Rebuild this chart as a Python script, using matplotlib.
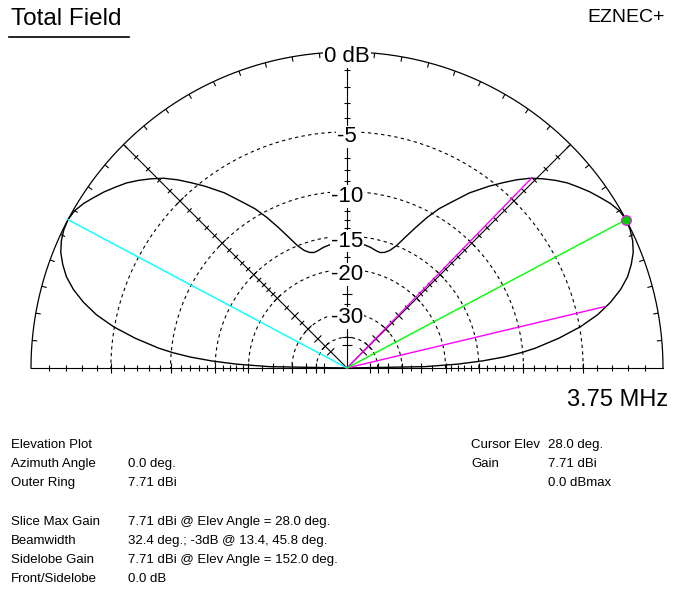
import numpy as np
import matplotlib.pyplot as plt
from matplotlib.collections import LineCollection

plt.rcParams['font.family'] = ['Liberation Sans', 'DejaVu Sans']

# elevation pattern, relative dB (0 dB = 7.71 dBi)
elev_deg = [0, 1, 2, 3, 4, 5, 6, 8, 10, 12, 14, 16, 18, 20, 22, 24, 26, 28, 30,
            32, 34, 36, 38, 40, 42, 44, 46, 48, 50, 52, 55, 58, 60, 62, 64, 66,
            68, 70, 72, 74, 76, 79, 82, 85, 88, 90,
            92, 95, 98, 101, 104, 106, 108, 110, 112, 114, 116, 118, 120, 122,
            125, 128, 130, 132, 134, 136, 138, 140, 142, 144, 146, 148, 150,
            152, 154, 156, 158, 160, 162, 164, 166, 168, 170, 172, 174, 175,
            176, 177, 178, 179, 180]
gain_db = [-99, -24, -18, -14.5, -12, -10.2, -8.8, -6.7, -4.95, -3.6, -2.6, -1.8,
           -1.18, -0.75, -0.4, -0.18, -0.05, 0, -0.08, -0.3, -0.6, -0.9, -1.25,
           -1.6, -2.05, -2.55, -3.1, -3.8, -4.6, -5.4, -6.7, -8.3, -9.3, -10.6,
           -12.1, -13.6, -15.0, -15.9, -16.4, -16.6, -16.5, -16.2, -16.0, -15.8,
           -15.65, -15.6,
           -15.65, -15.8, -16.0, -16.2, -16.5, -16.6, -16.4, -15.9, -15.0, -13.6,
           -12.1, -10.6, -9.3, -8.3, -6.7, -5.4, -4.6, -3.8, -3.1, -2.55, -2.05,
           -1.6, -1.25, -0.9, -0.6, -0.3, -0.08, 0, -0.05, -0.18, -0.4, -0.75,
           -1.18, -1.8, -2.6, -3.6, -4.95, -6.7, -8.8, -10.2, -12, -14.5, -18,
           -24, -99]

ring_db = [-5, -10, -15, -20, -30, -40]
label_db = [0, -5, -10, -15, -20, -30]
label_txt = ['0 dB', '-5', '-10', '-15', '-20', '-30']

cursor_elev = 28.0
sidelobe_elev = 152.0
bw_edges = [13.4, 45.8]
bw_db = -3.0

left_rows = [('Elevation Plot', ''), ('Azimuth Angle', '0.0 deg.'),
             ('Outer Ring', '7.71 dBi'), ('', ''),
             ('Slice Max Gain', '7.71 dBi @ Elev Angle = 28.0 deg.'),
             ('Beamwidth', '32.4 deg.; -3dB @ 13.4, 45.8 deg.'),
             ('Sidelobe Gain', '7.71 dBi @ Elev Angle = 152.0 deg.'),
             ('Front/Sidelobe', '0.0 dB')]
right_rows = [('Cursor Elev', '28.0 deg.'), ('Gain', '7.71 dBi'), ('', '0.0 dBmax')]


def arrl(db):
    # ARRL log scale: 0.89 radius factor per 2 dB
    return 0.89 ** (-np.asarray(db, dtype=float) / 2)


W, H = 674, 591
R = 316.0
cx, cy = 347, 368

fig = plt.figure(figsize=(W / 100, H / 100), dpi=100)
ax = fig.add_axes([0, 0, 1, 1])
ax.set_xlim(-cx / R, (W - cx) / R)
ax.set_ylim(-(H - cy) / R, cy / R)
ax.axis('off')

px = 1 / R
t = np.radians(np.linspace(0, 180, 361))

# outer ring
ax.plot(np.cos(t), np.sin(t), color='black', lw=0.9)
# dashed rings
for d in ring_db:
    r = arrl(d)
    ax.plot(r * np.cos(t), r * np.sin(t), color='black', lw=0.8,
            dashes=(3, 3))

# radial axes
for a in [0, 45, 90, 135, 180]:
    ar = np.radians(a)
    ax.plot([0, np.cos(ar)], [0, np.sin(ar)], color='black', lw=0.8)

# ticks on radial axes
segs = []
tick_db = list(range(-1, -20, -1)) + [-20, -22.5, -25, -27.5, -30, -35, -40, -45]
for a in [0, 45, 90, 135, 180]:
    ar = np.radians(a)
    nx, ny = -np.sin(ar), np.cos(ar)
    for d in tick_db:
        r = arrl(d)
        L = (5 if d % 5 == 0 else 3) * px
        x0, y0 = r * np.cos(ar), r * np.sin(ar)
        segs.append([(x0 - L * nx, y0 - L * ny), (x0 + L * nx, y0 + L * ny)])
# ticks on outer ring
for a in range(5, 180, 5):
    ar = np.radians(a)
    segs.append([(np.cos(ar), np.sin(ar)),
                 ((1 - 5 * px) * np.cos(ar), (1 - 5 * px) * np.sin(ar))])
ax.add_collection(LineCollection(segs, colors='black', linewidths=0.8))

# pattern
r_pat = arrl(gain_db)
th = np.radians(elev_deg)
ax.plot(r_pat * np.cos(th), r_pat * np.sin(th), color='black', lw=1.0, zorder=3)

# cursor / sidelobe / beamwidth lines
a = np.radians(sidelobe_elev)
ax.plot([0, np.cos(a)], [0, np.sin(a)], color='#00ffff', lw=1.0, zorder=4)
for e in bw_edges:
    a = np.radians(e)
    rb = arrl(bw_db)
    ax.plot([0, rb * np.cos(a)], [0, rb * np.sin(a)], color='#ff00ff', lw=1.0,
            zorder=4)
a = np.radians(cursor_elev)
ax.plot([0, np.cos(a)], [0, np.sin(a)], color='#00ff00', lw=1.0, zorder=4)
ax.plot([np.cos(a)], [np.sin(a)], marker='o', ms=7, mfc='#00cc00',
        mec='#ff00ff', mew=0.8, zorder=5)

# ring labels
for d, s in zip(label_db, label_txt):
    ax.text(0, arrl(d) - 5 * px, s, ha='center', va='center', fontsize=16,
            zorder=6, bbox=dict(facecolor='white', edgecolor='none', pad=0.5))

# header / footer text
def fx(x):
    return x / W


def fy(y):
    return 1 - y / H


fig.text(fx(11), fy(19), 'Total Field', fontsize=17.5, ha='left', va='center')
fig.add_artist(plt.Line2D([fx(9), fx(129)], [fy(37), fy(37)], color='black',
                          lw=1.2))
fig.text(fx(665), fy(18), 'EZNEC+', fontsize=14, ha='right', va='center')
fig.text(fx(668), fy(400), '3.75 MHz', fontsize=17, ha='right', va='center')

row_y = [445, 464, 483, 502, 522, 541, 560, 579]
for (lab, val), y in zip(left_rows, row_y):
    fig.text(fx(11), fy(y), lab, fontsize=9.5, ha='left', va='center')
    fig.text(fx(128), fy(y), val, fontsize=9.5, ha='left', va='center')
for (lab, val), y in zip(right_rows, row_y):
    fig.text(fx(471), fy(y), lab, fontsize=9.5, ha='left', va='center')
    fig.text(fx(548), fy(y), val, fontsize=9.5, ha='left', va='center')

fig.savefig('out.png', dpi=100, facecolor='white')
